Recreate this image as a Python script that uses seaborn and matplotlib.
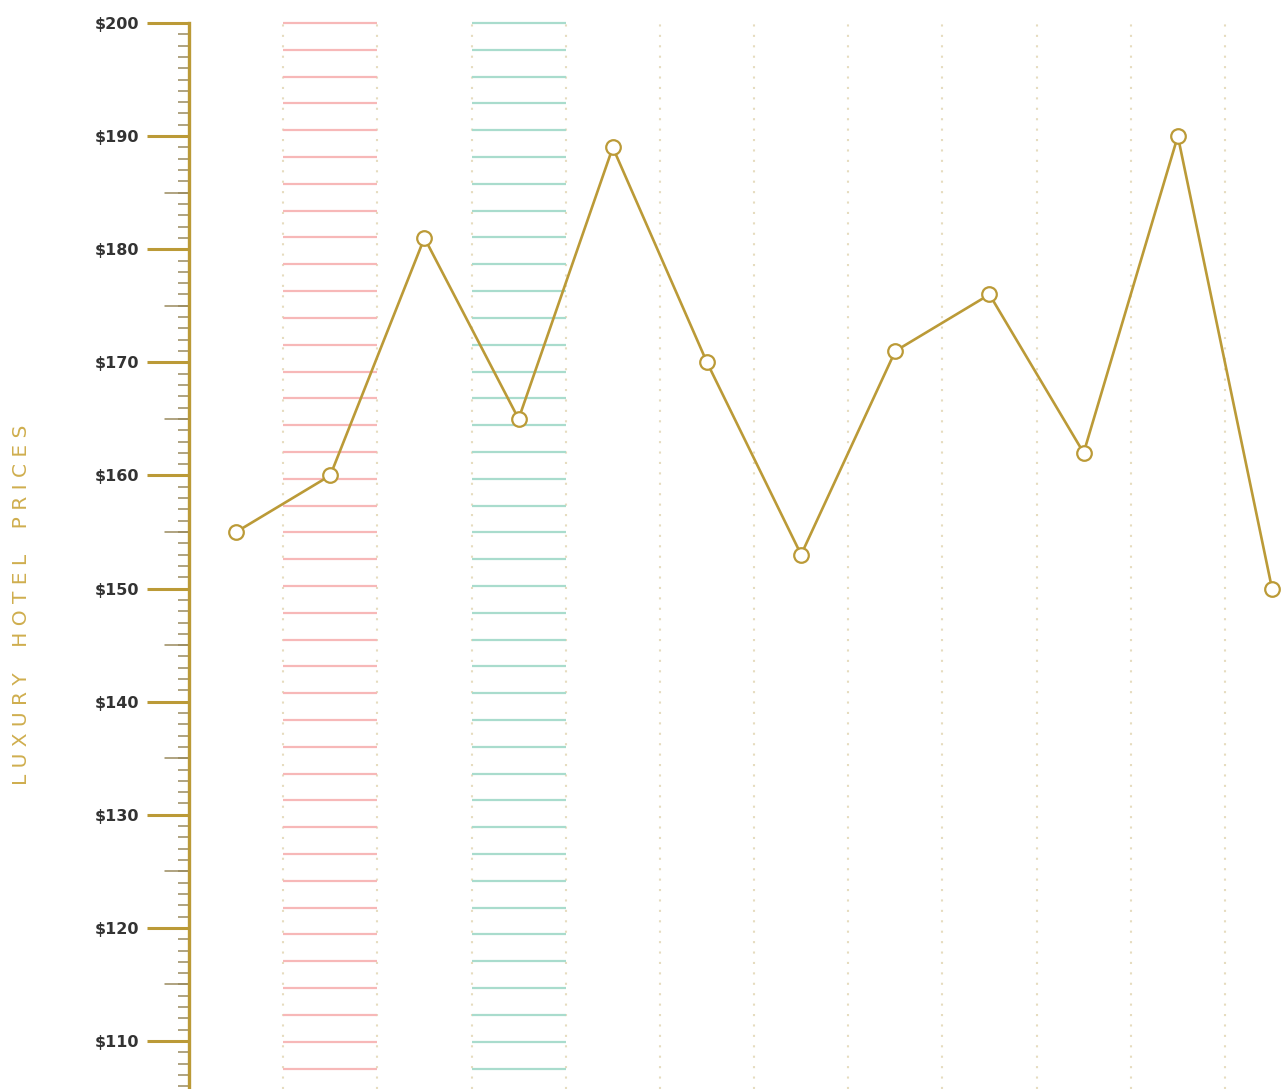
import numpy as np
import pandas as pd
import seaborn as sns
import matplotlib.pyplot as plt
from matplotlib.ticker import MultipleLocator, FuncFormatter

# data
periods = list(range(12))
prices = [155, 160, 181, 165, 189, 170, 153, 171, 176, 162, 190, 150]
pink_col = 1
teal_col = 3
axis_title = "LUXURY HOTEL PRICES"

gold = "#bb9a37"
pink = "#f7b8b8"
teal = "#a9dccd"
dots = "#e6dcbf"

sns.set_style("white")
plt.rcParams['font.family'] = ['DejaVu Sans']

df = pd.DataFrame({"period": periods, "price": prices})

fig = plt.figure(figsize=(12.84, 10.89), dpi=100)
ax = fig.add_axes([189 / 1284, 0, 1095 / 1284, 1 - 23 / 1089])

# dotted column separators
for x in np.arange(0.5, len(periods) - 0.5, 1):
    ax.axvline(x, ymin=0, ymax=1.003, color=dots, lw=1.5,
               linestyle=(0, (1, 4)), clip_on=False, zorder=1)

# striped highlight columns
stripes = np.arange(200, 100, -2.37)
ax.hlines(stripes, pink_col - 0.5, pink_col + 0.5, color=pink, lw=1.6, zorder=1, clip_on=False)
ax.hlines(stripes, teal_col - 0.5, teal_col + 0.5, color=teal, lw=1.6, zorder=1, clip_on=False)

sns.lineplot(data=df, x="period", y="price", ax=ax, color=gold, lw=1.9,
             marker="o", markersize=10.5, markerfacecolor="white",
             markeredgecolor=gold, markeredgewidth=1.6, zorder=3, clip_on=False)

ax.set_xlim(-0.5, 11 + 12 / 94.2)
ax.set_ylim(105.76, 200)

for s in ["top", "right", "bottom"]:
    ax.spines[s].set_visible(False)
ax.spines["left"].set_color(gold)
ax.spines["left"].set_linewidth(2.4)

ax.set_xticks([])
ax.set_xlabel("")
ax.set_ylabel("")
ax.yaxis.set_major_locator(MultipleLocator(10))
ax.yaxis.set_minor_locator(MultipleLocator(1))
ax.yaxis.set_major_formatter(FuncFormatter(lambda v, p: f"${v:.0f}"))
ax.tick_params(axis="y", which="both", left=True, direction="out")
ax.tick_params(axis="y", which="major", length=30, width=2.2, color=gold,
               pad=6, labelsize=11.5, labelcolor="#333333")
ax.tick_params(axis="y", which="minor", length=8, width=1.1, color="#9a8a5e")
for lab in ax.get_yticklabels():
    lab.set_fontweight("bold")

# medium ticks every $5
for v in np.arange(110, 200, 10) - 5:
    ax.plot([-24 / 1095, 0], [v, v], transform=ax.get_yaxis_transform(),
            color="#9a8a5e", lw=1.1, clip_on=False, zorder=2)

fig.text(22 / 1284, 1 - 605 / 1089, " ".join(axis_title).replace("   ", "    "),
         rotation=90, ha="center", va="center", color="#cfae4e", fontsize=14.5)

fig.savefig("out.png", dpi=100, facecolor="white")
